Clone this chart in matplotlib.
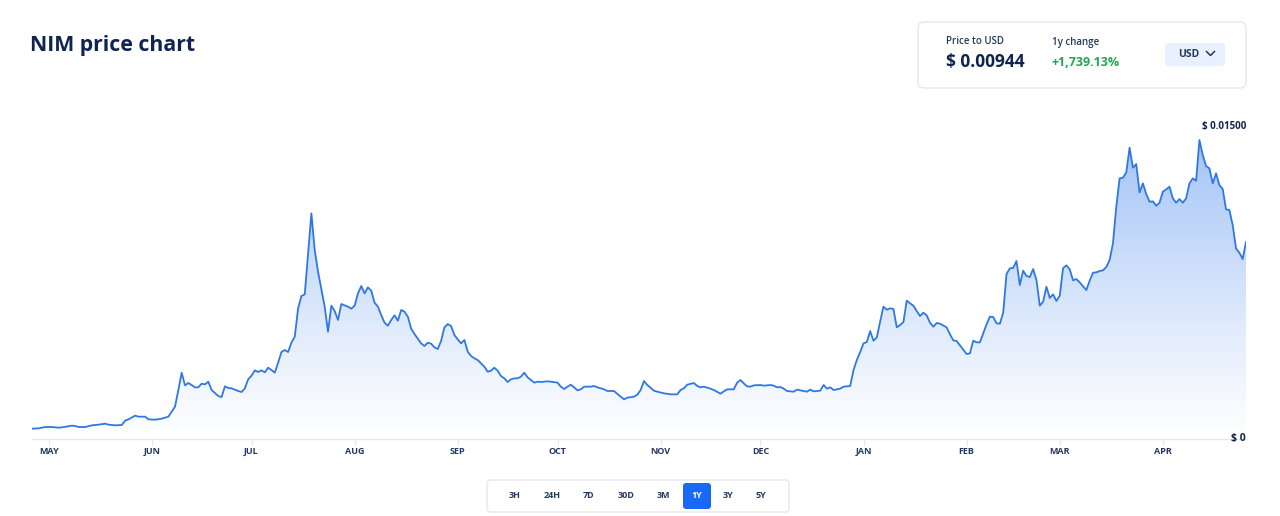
import numpy as np
import pandas as pd
import matplotlib
matplotlib.use("Agg")
import matplotlib.pyplot as plt
import matplotlib.dates as mdates
from matplotlib.colors import LinearSegmentedColormap
from matplotlib.patches import FancyBboxPatch
from matplotlib.ticker import FuncFormatter

plt.rcParams['font.family'] = ['Open Sans', 'DejaVu Sans']

# ---- data ----
start_date = pd.Timestamp('2024-04-26')
day_offsets = [
    0, 2, 4, 6, 8, 9, 12, 13, 14, 16, 18, 20, 22, 23, 25, 27, 28, 29, 31, 32,
    34, 35, 37, 39, 41, 43, 44, 45, 46, 47, 48, 49, 50, 51, 52, 53, 54, 56, 57, 58,
    59, 60, 62, 63, 64, 65, 66, 67, 68, 69, 70, 71, 72, 73, 74, 75, 76, 77, 78, 79,
    80, 81, 82, 84, 85, 86, 88, 89, 90, 91, 92, 93, 95, 96, 97, 98, 99, 100, 101, 102,
    103, 104, 105, 106, 107, 108, 109, 110, 111, 112, 113, 114, 115, 117, 118, 119, 120, 121, 122, 123,
    124, 125, 126, 127, 128, 129, 130, 131, 132, 133, 134, 136, 137, 138, 139, 140, 141, 142, 143, 144,
    145, 146, 147, 148, 149, 151, 152, 153, 155, 156, 158, 159, 160, 161, 162, 163, 164, 165, 166, 168,
    169, 170, 172, 173, 175, 176, 177, 178, 179, 181, 182, 183, 184, 185, 187, 188, 190, 192, 194, 195,
    196, 197, 199, 200, 201, 202, 204, 205, 207, 208, 209, 211, 212, 213, 214, 215, 216, 217, 219, 220,
    222, 223, 224, 225, 226, 227, 229, 230, 231, 233, 234, 235, 237, 238, 239, 240, 241, 242, 243, 244,
    246, 247, 248, 249, 250, 251, 252, 253, 254, 255, 256, 257, 258, 259, 260, 261, 262, 263, 264, 265,
    266, 267, 268, 269, 270, 271, 272, 273, 275, 276, 277, 278, 279, 281, 282, 283, 284, 285, 286, 287,
    288, 289, 290, 291, 292, 293, 294, 295, 296, 297, 298, 299, 300, 301, 302, 303, 304, 305, 306, 307,
    308, 309, 310, 311, 312, 313, 314, 315, 316, 317, 318, 319, 320, 321, 322, 323, 324, 325, 326, 327,
    328, 329, 330, 331, 332, 333, 334, 335, 336, 337, 338, 339, 340, 341, 342, 343, 344, 345, 346, 347,
    348, 349, 350, 351, 352, 353, 354, 355, 356, 357, 358, 359, 360, 361, 362, 363, 364, 365,
]
prices_usd = [
    0.000495, 0.000511, 0.000575, 0.000575, 0.000543, 0.000559, 0.000639, 0.000623, 0.000575, 0.000575,
    0.000655, 0.000687, 0.000735, 0.000687, 0.000655, 0.000671, 0.000878, 0.000942, 0.001118, 0.001070,
    0.001070, 0.000942, 0.000926, 0.000974, 0.001070, 0.001549, 0.002348, 0.003178, 0.002571, 0.002683,
    0.002587, 0.002476, 0.002476, 0.002651, 0.002619, 0.002747, 0.002348, 0.002060, 0.002012, 0.002524,
    0.002444, 0.002428, 0.002300, 0.002252, 0.002428, 0.002859, 0.003035, 0.003290, 0.003210, 0.003290,
    0.003194, 0.003418, 0.003306, 0.003178, 0.003658, 0.004169, 0.004264, 0.004169, 0.004616, 0.004903,
    0.006261, 0.006852, 0.006932, 0.010813, 0.009056, 0.008018, 0.006341, 0.005143, 0.006389, 0.006133,
    0.005702, 0.006469, 0.006341, 0.006245, 0.006389, 0.006980, 0.007331, 0.006980, 0.007267, 0.007107,
    0.006532, 0.006341, 0.005942, 0.005574, 0.005430, 0.005702, 0.005926, 0.005670, 0.006181, 0.006101,
    0.005862, 0.005287, 0.005031, 0.004584, 0.004456, 0.004616, 0.004568, 0.004392, 0.004312, 0.004700,
    0.005351, 0.005510, 0.005414, 0.004983, 0.004776, 0.004584, 0.004744, 0.004185, 0.003977, 0.003865,
    0.003785, 0.003466, 0.003226, 0.003274, 0.003418, 0.003274, 0.003019, 0.002907, 0.002731, 0.002859,
    0.002907, 0.002907, 0.002987, 0.003178, 0.002955, 0.002699, 0.002747, 0.002731, 0.002763, 0.002747,
    0.002699, 0.002508, 0.002396, 0.002508, 0.002603, 0.002476, 0.002332, 0.002380, 0.002508, 0.002508,
    0.002540, 0.002476, 0.002380, 0.002300, 0.002300, 0.002156, 0.002028, 0.001901, 0.001981, 0.002028,
    0.002124, 0.002348, 0.002779, 0.002587, 0.002316, 0.002268, 0.002188, 0.002140, 0.002140, 0.002348,
    0.002428, 0.002603, 0.002683, 0.002540, 0.002476, 0.002508, 0.002412, 0.002348, 0.002172, 0.002284,
    0.002380, 0.002380, 0.002699, 0.002827, 0.002667, 0.002524, 0.002508, 0.002571, 0.002587, 0.002556,
    0.002587, 0.002556, 0.002476, 0.002492, 0.002412, 0.002300, 0.002268, 0.002364, 0.002332, 0.002268,
    0.002364, 0.002284, 0.002316, 0.002587, 0.002412, 0.002476, 0.002348, 0.002380, 0.002412, 0.002508,
    0.002540, 0.003306, 0.003785, 0.004169, 0.004584, 0.004648, 0.005175, 0.004712, 0.004871, 0.005622,
    0.006341, 0.006197, 0.006261, 0.006229, 0.005351, 0.005462, 0.005606, 0.006628, 0.006501, 0.006389,
    0.006133, 0.005894, 0.006053, 0.005926, 0.005574, 0.005382, 0.005558, 0.005526, 0.005351, 0.005015,
    0.004728, 0.004696, 0.004488, 0.004073, 0.004105, 0.004712, 0.004632, 0.004632, 0.005063, 0.005494,
    0.005862, 0.005846, 0.005542, 0.005526, 0.006053, 0.007906, 0.008178, 0.008194, 0.008529, 0.007379,
    0.008066, 0.007810, 0.007762, 0.008146, 0.007619, 0.006389, 0.006580, 0.007299, 0.006756, 0.006932,
    0.006612, 0.006868, 0.008194, 0.008321, 0.008130, 0.007603, 0.007667, 0.007507, 0.007315, 0.007140,
    0.007587, 0.007970, 0.007986, 0.008050, 0.008082, 0.008242, 0.008577, 0.009376, 0.011132, 0.012490,
    0.012522, 0.012778, 0.013959, 0.013001, 0.013177, 0.011819, 0.012250, 0.011739, 0.011372, 0.011388,
    0.011180, 0.011324, 0.011851, 0.011963, 0.012091, 0.011532, 0.011324, 0.011500, 0.011324, 0.011532,
    0.012250, 0.012490, 0.012378, 0.014327, 0.013608, 0.013081, 0.012969, 0.012250, 0.012730, 0.012171,
    0.011979, 0.011005, 0.010973, 0.010254, 0.009136, 0.008928, 0.008625, 0.009440,
]
y_max = 0.015
range_buttons = ['3H', '24H', '7D', '30D', '3M', '1Y', '3Y', '5Y']
active_range = '1Y'

NAVY = '#0f2452'
LABEL = '#24395f'
LINE = '#2f78e4'
GRID = '#e4e8ef'

dates = start_date + pd.to_timedelta(day_offsets, unit='D')
xnum = mdates.date2num(dates)

W, H = 1280, 516
fig = plt.figure(figsize=(W / 100, H / 100), dpi=100)
fig.patch.set_facecolor('white')

# overlay in pixel coordinates for the page furniture
ov = fig.add_axes([0, 0, 1, 1])
ov.set_xlim(0, W)
ov.set_ylim(H, 0)
ov.axis('off')

ov.text(30, 45.5, 'NIM price chart', fontsize=15.3, fontweight='bold', color=NAVY,
        ha='left', va='center')

ov.add_patch(FancyBboxPatch((918, 22), 328, 66, boxstyle='round,pad=0,rounding_size=6',
                            facecolor='white', edgecolor=GRID, linewidth=1))
ov.text(946, 42, 'Price to USD', fontsize=7, fontweight='semibold', color=LABEL, va='center')
ov.text(946, 62, '$ 0.00944', fontsize=12.5, fontweight='bold', color=NAVY, va='center')
ov.text(1052, 42, '1y change', fontsize=7, fontweight='semibold', color=LABEL, va='center')
ov.text(1052, 62, '+1,739.13%', fontsize=9, fontweight='bold', color='#22a552', va='center')
ov.add_patch(FancyBboxPatch((1165, 43), 60, 23, boxstyle='round,pad=0,rounding_size=3',
                            facecolor='#e8f1fd', edgecolor='none'))
ov.text(1178, 54.5, 'USD', fontsize=7.5, fontweight='bold', color=LABEL, va='center')
ov.plot([1206.5, 1210.5, 1214.5], [51.5, 55.5, 51.5], color=LABEL, lw=1.1)

# range selector
ov.add_patch(FancyBboxPatch((487, 480), 302, 32, boxstyle='round,pad=0,rounding_size=4',
                            facecolor='white', edgecolor=GRID, linewidth=1))
btn_x = [515, 552, 589, 626, 663, 697, 728, 761]
for bx, lab in zip(btn_x, range_buttons):
    col = LABEL
    if lab == active_range:
        ov.add_patch(FancyBboxPatch((bx - 14, 483), 28, 26, boxstyle='round,pad=0,rounding_size=3',
                                    facecolor='#1769f6', edgecolor='none'))
        col = 'white'
    ov.text(bx, 496, lab, fontsize=6.5, fontweight='bold', color=col, ha='center', va='center')

# chart axes
left, right = 32 / W, 1246 / W
bottom, top = (H - 439) / H, (H - 126) / H
ax = fig.add_axes([left, bottom, right - left, top - bottom])
ax.set_facecolor('none')
ax.set_xlim(xnum[0], xnum[-1])
ax.set_ylim(0, y_max)

cmap = LinearSegmentedColormap.from_list('fade', ['#ffffff', '#9fc1f6'])
grad = np.linspace(0, 1, 256).reshape(-1, 1) ** 1.1
im = ax.imshow(grad, cmap=cmap, aspect='auto', origin='lower',
               extent=[xnum[0], xnum[-1], 0, y_max], vmin=0, vmax=1, zorder=1)
poly = ax.fill_between(xnum, prices_usd, 0, facecolor='none', edgecolor='none')
im.set_clip_path(poly.get_paths()[0], transform=ax.transData)
ax.plot(xnum, prices_usd, color=LINE, lw=1.3, zorder=3, solid_joinstyle='round')

for s in ['top', 'left', 'right']:
    ax.spines[s].set_visible(False)
ax.spines['bottom'].set_color(GRID)
ax.spines['bottom'].set_linewidth(1)
ax.set_yticks([])
ax.xaxis.set_major_locator(mdates.MonthLocator())
ax.xaxis.set_major_formatter(FuncFormatter(lambda v, p: mdates.num2date(v).strftime('%b').upper()))
ax.tick_params(axis='x', length=4, width=0.8, color=GRID, labelsize=6.5,
               labelcolor=LABEL, pad=2)
for t in ax.get_xticklabels():
    t.set_fontweight('bold')

ax.text(1.0, y_max, '$ 0.01500', transform=ax.get_yaxis_transform(), ha='right', va='center',
        fontsize=7, fontweight='bold', color=NAVY, clip_on=False)
ax.text(1.0, 0, '$ 0', transform=ax.get_yaxis_transform(), ha='right', va='center',
        fontsize=7.5, fontweight='bold', color=NAVY, clip_on=False)

fig.savefig('out.png', dpi=100)
